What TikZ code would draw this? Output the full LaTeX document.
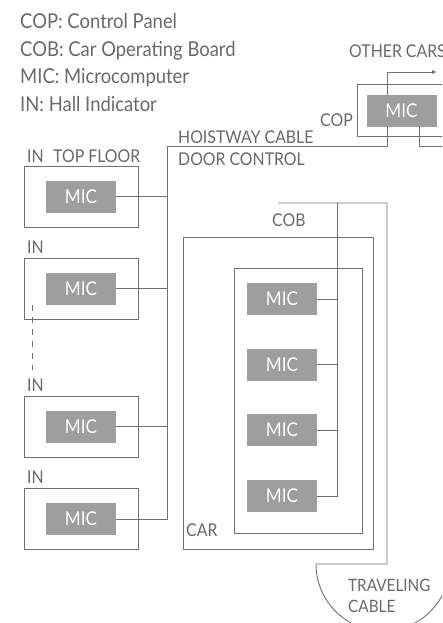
\documentclass[tikz,border=0pt]{standalone}
\usepackage{fontspec}
\setmainfont{Lato}[FakeStretch=0.9]
\usetikzlibrary{arrows.meta}
\definecolor{elvline}{RGB}{112,112,112}
\definecolor{elvtext}{RGB}{105,105,105}
\definecolor{elvfill}{RGB}{158,158,158}
\newcommand{\elvfont}{\fontsize{17.6}{21}\selectfont}
\newcommand{\elvbig}{\fontsize{20.5}{24}\selectfont}
\begin{document}
\begin{tikzpicture}[x=1pt, y=-1pt,
  elvbox/.style = {draw=elvline, line width=0.9pt, minimum width=114pt,
    minimum height=61pt, inner sep=0pt},
  elvmic/.style = {fill=elvfill, text=white, minimum width=70pt,
    minimum height=32pt, inner sep=0pt, font=\fontsize{19}{22}\selectfont},
  elvlbl/.style = {text=elvtext, anchor=base west, inner sep=0pt, font=\elvfont},
  elvkey/.style = {elvlbl, font=\elvbig},
  elvwire/.style = {draw=elvline, line width=0.9pt}
]
  \clip (0,0) rectangle (442,623);
  % legend
  \node[elvkey] (lgcop) at (20,29) {COP: Control Panel};
  \node[elvkey] (lgcob) at (20,57) {COB: Car Operating Board};
  \node[elvkey] (lgmic) at (20,84) {MIC: Microcomputer};
  \node[elvkey] (lgin) at (20,111) {IN: Hall Indicator};
  % hall indicators
  \node[elvbox] (hall1) at (81,196.5) {};
  \node[elvmic] (hmic1) at (hall1) {MIC};
  \node[elvlbl] (hlbl1) at (27,162) {IN};
  \node[elvlbl] (toplbl) at (53,162) {TOP FLOOR};
  \node[elvbox] (hall2) at (81,288.5) {};
  \node[elvmic] (hmic2) at (hall2) {MIC};
  \node[elvlbl] (hlbl2) at (27,253) {IN};
  \node[elvbox] (hall3) at (81,426.5) {};
  \node[elvmic] (hmic3) at (hall3) {MIC};
  \node[elvlbl] (hlbl3) at (27,391) {IN};
  \node[elvbox] (hall4) at (81,519) {};
  \node[elvmic] (hmic4) at (hall4) {MIC};
  \node[elvlbl] (hlbl4) at (27,483) {IN};
  \draw[elvwire, dash pattern=on 6pt off 6pt]
    ([xshift=9pt, yshift=-16.5pt]hall2.west) -- ++(0,65);
  % control panel
  \draw[elvwire] (357,84) rectangle (470,136);
  \node[elvmic] (copmic) at (401.5,111) {MIC};
  \node[elvlbl] (coplbl) at (320,126) {COP};
  \node[elvlbl] (otherlbl) at (349,58) {OTHER CARS};
  % hoistway cable
  \node[elvlbl] (hwlbl) at (178,143) {HOISTWAY CABLE};
  \node[elvlbl] (doorlbl) at (178,165) {DOOR CONTROL};
  \coordinate (hwbend) at (167,146);
  \coordinate (coptap) at (387,146);
  \coordinate (doortap) at (419,146);
  \coordinate (dooroff) at (460,146);
  \coordinate (otherend) at (437,72);
  \draw[elvwire] (hmic4.east) -| (hwbend) -- (coptap) -- (coptap |- copmic.south);
  \draw[elvwire] (hmic1.east) -- (hmic1.east -| hwbend);
  \draw[elvwire] (hmic2.east) -- (hmic2.east -| hwbend);
  \draw[elvwire] (hmic3.east) -- (hmic3.east -| hwbend);
  \draw[elvwire, -{Latex[length=5pt, width=4pt]}]
    (coptap |- copmic.north) |- (otherend);
  \draw[elvwire] (doortap |- copmic.south) -- (doortap) -- (dooroff);
  % car and car operating board
  \node[elvbox, minimum width=190pt, minimum height=312pt] (car) at (278,393) {};
  \node[elvlbl] (carlbl) at (186,536) {CAR};
  \node[elvbox, minimum width=128pt, minimum height=265pt] (cob) at (298,400.5) {};
  \node[elvlbl] (coblbl) at (272,226) {COB};
  \node[elvmic] (cmic1) at (282,299) {MIC};
  \node[elvmic] (cmic2) at (282,364.5) {MIC};
  \node[elvmic] (cmic3) at (282,430) {MIC};
  \node[elvmic] (cmic4) at (282,496) {MIC};
  \coordinate (cobtop) at (337,203);
  \draw[elvwire] (cmic4.east) -| (cobtop);
  \draw[elvwire] (cmic1.east) -- (cmic1.east -| cobtop);
  \draw[elvwire] (cmic2.east) -- (cmic2.east -| cobtop);
  \draw[elvwire] (cmic3.east) -- (cmic3.east -| cobtop);
  % traveling cable
  \coordinate (travstart) at (278,203);
  \coordinate (travdrop) at (387,203);
  \coordinate (travloop) at (387,564);
  \coordinate (travleft) at (316,564);
  \draw[elvwire] (travstart) -- (travdrop) -- (travloop) -- (travleft)
    arc[start angle=180, end angle=0, radius=67];
  \node[elvlbl, font=\fontsize{17}{20}\selectfont] (travlbl1) at (348,591) {TRAVELING};
  \node[elvlbl, font=\fontsize{17}{20}\selectfont] (travlbl2) at (348,612) {CABLE};
\end{tikzpicture}
\end{document}
